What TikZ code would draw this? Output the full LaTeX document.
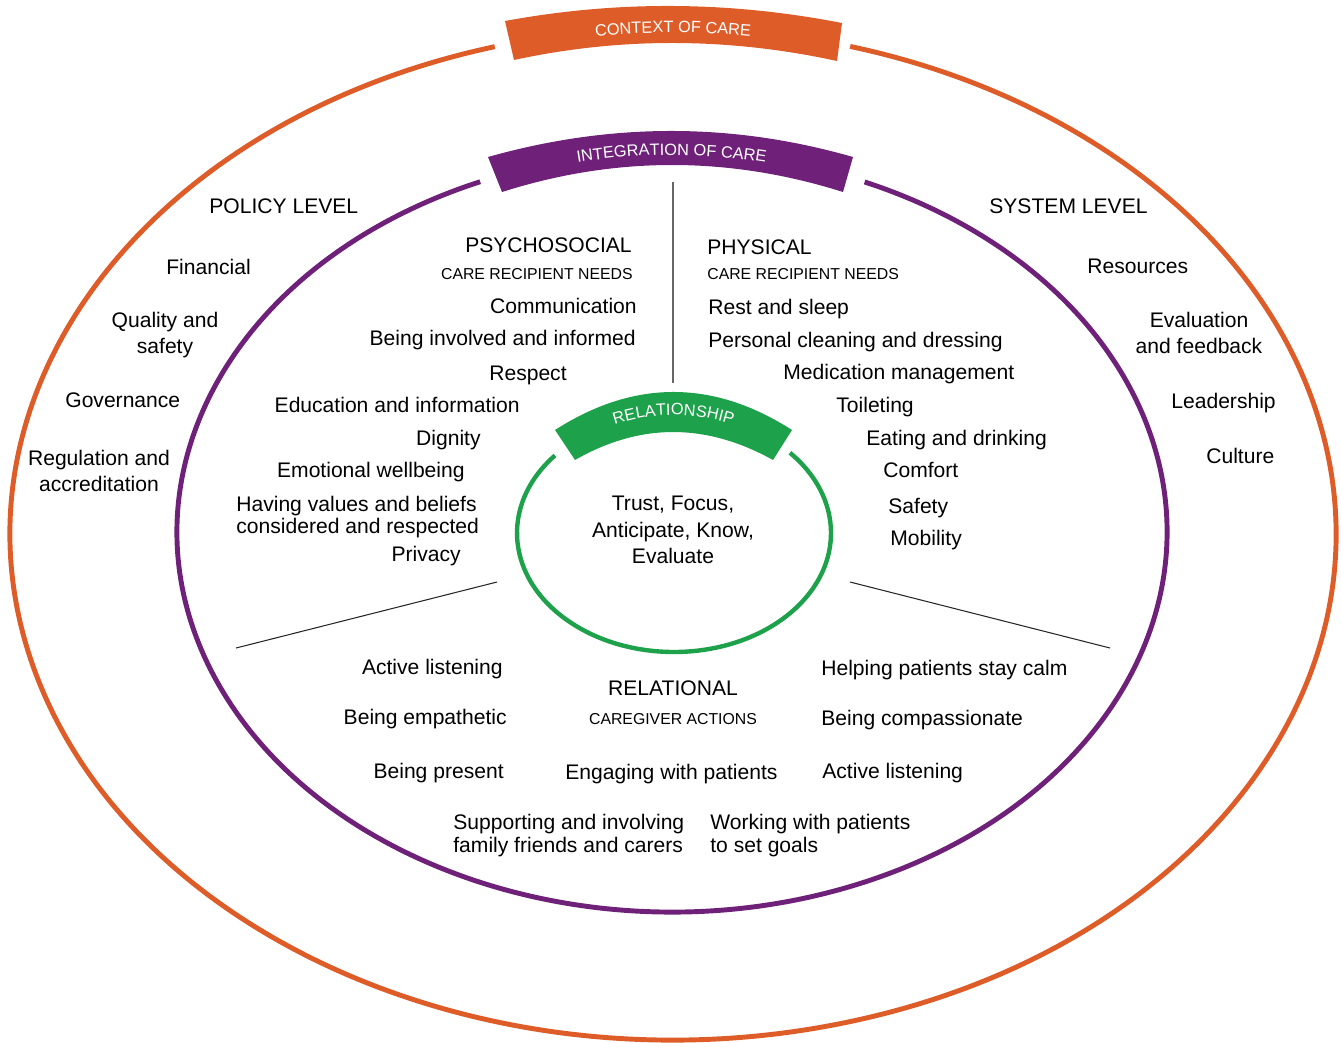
\documentclass[tikz,border=0pt]{standalone}
\usepackage{fontspec}
\setmainfont{Liberation Sans}
\usetikzlibrary{decorations.text}
\definecolor{careorange}{RGB}{222,92,40}
\definecolor{carepurple}{RGB}{111,33,122}
\definecolor{caregreen}{RGB}{29,161,75}
\newcommand\bandfont{\fontsize{9.3}{10}\selectfont}

\begin{document}
\begin{tikzpicture}[x=0.02cm,y=0.02cm,
    item/.style={inner sep=0pt,font=\fontsize{12}{15}\selectfont},
    small item/.style={inner sep=0pt,font=\fontsize{9}{11}\selectfont},
    ring/.style={line width=2.8pt},
    divider/.style={draw=black!85,line width=0.6pt},
    band text/.style={decorate,decoration={text along path,text align=center,text color=white,text={|\bandfont|#1}}}]
\useasboundingbox (0,0) rectangle (1341,-1042);

\draw[ring,careorange] (673,-534) ++(105.6:663 and 506) arc[start angle=105.6,end angle=434.5,x radius=663,y radius=506];
\draw[ring,carepurple] (672,-532) ++(112.8:495 and 380) arc[start angle=112.8,end angle=427.1,x radius=495,y radius=380];
\draw[ring,caregreen,line width=2.5pt] (674,-533) ++(139.3:157 and 119) arc[start angle=139.3,end angle=402.4,x radius=157,y radius=119];

\fill[careorange] (505,-21) .. controls (617,-0.3) and (729,-1) .. (842,-23) -- (837,-61) .. controls (728,-37.3) and (620,-37) .. (514,-60) -- cycle;
\fill[carepurple] (488,-157) .. controls (611,-122.3) and (732,-122.3) .. (853,-157) -- (843,-192) .. controls (729,-156) and (615,-156) .. (502,-192) -- cycle;
\fill[caregreen] (555,-430) .. controls (634,-379.3) and (713,-379.3) .. (792,-430) -- (773,-460) .. controls (706,-422.7) and (640,-422.7) .. (575,-460) -- cycle;
\path[band text={CONTEXT OF CARE}] (506,-49) .. controls (617,-27) and (729,-27) .. (840,-49);
\path[band text={INTEGRATION OF CARE}] (495,-181.5) .. controls (613,-146.2) and (731,-146.2) .. (848,-181.5);
\path[band text={RELATIONSHIP}] (565,-448) .. controls (637,-404) and (709,-404) .. (782,-448);

\coordinate (v1) at (673,-182);
\coordinate (v2) at (673,-383);
\coordinate (l1) at (497,-582);
\coordinate (l2) at (236,-648);
\coordinate (r1) at (850,-582);
\coordinate (r2) at (1110,-648);
\draw[divider,draw=black!60,line width=0.8pt] (v1) -- (v2);
\draw[divider] (l1) -- (l2);
\draw[divider] (r1) -- (r2);

\node[item,anchor=mid west] (policy) at (209,-209) {POLICY LEVEL};
\node[item,anchor=mid west] (fin) at (166,-270) {Financial};
\node[item,anchor=north,align=center] (qual) at (165,-312) {Quality and\\safety};
\node[item,anchor=mid west] (gov) at (65,-403) {Governance};
\node[item,anchor=north,align=center] (reg) at (99,-450) {Regulation and\\accreditation};

\node[item,anchor=mid west] (system) at (989,-209) {SYSTEM LEVEL};
\node[item,anchor=mid west] (res) at (1087,-269) {Resources};
\node[item,anchor=north,align=center] (eval) at (1199,-312) {Evaluation\\and feedback};
\node[item,anchor=mid west] (lead) at (1171,-404) {Leadership};
\node[item,anchor=mid west] (cult) at (1206,-459) {Culture};

\node[item,anchor=mid east] (psy) at (632,-248) {PSYCHOSOCIAL};
\node[small item,anchor=mid east] (psyneeds) at (633,-275) {CARE RECIPIENT NEEDS};
\node[item,anchor=mid east] (comm) at (637,-309) {Communication};
\node[item,anchor=mid east] (involved) at (636,-341) {Being involved and informed};
\node[item,anchor=mid east] (respect) at (567,-376) {Respect};
\node[item,anchor=mid east] (edu) at (520,-408) {Education and information};
\node[item,anchor=mid east] (dignity) at (481,-441) {Dignity};
\node[item,anchor=mid east] (emo) at (465,-473) {Emotional wellbeing};
\node[item,anchor=north west,align=left] (values) at (236,-496) {Having values and beliefs\\[-2.5pt]considered and respected};
\node[item,anchor=mid east] (privacy) at (461,-557) {Privacy};

\node[item,anchor=mid west] (phys) at (707,-250) {PHYSICAL};
\node[small item,anchor=mid west] (physneeds) at (707,-275) {CARE RECIPIENT NEEDS};
\node[item,anchor=mid west] (rest) at (708,-310) {Rest and sleep};
\node[item,anchor=mid west] (personal) at (708,-343) {Personal cleaning and dressing};
\node[item,anchor=mid west] (med) at (783,-375) {Medication management};
\node[item,anchor=mid west] (toilet) at (836,-408) {Toileting};
\node[item,anchor=mid west] (eat) at (866,-441) {Eating and drinking};
\node[item,anchor=mid west] (comfort) at (883,-473) {Comfort};
\node[item,anchor=mid west] (safety) at (888,-509) {Safety};
\node[item,anchor=mid west] (mobility) at (890,-541) {Mobility};

\node[item,anchor=north,align=center] (core) at (673,-496) {Trust, Focus,\\Anticipate, Know,\\Evaluate};

\node[item,anchor=mid] (rel) at (673,-691) {RELATIONAL};
\node[small item,anchor=mid] (relact) at (673,-720) {CAREGIVER ACTIONS};
\node[item,anchor=mid east] (listenl) at (503,-670) {Active listening};
\node[item,anchor=mid east] (empath) at (507,-720) {Being empathetic};
\node[item,anchor=mid east] (present) at (504,-774) {Being present};
\node[item,anchor=mid west] (engage) at (565,-775) {Engaging with patients};
\node[item,anchor=north west,align=left] (support) at (453,-814) {Supporting and involving\\[-2pt]family friends and carers};
\node[item,anchor=north west,align=left] (goals) at (710,-814) {Working with patients\\[-2pt]to set goals};
\node[item,anchor=mid west] (calm) at (821,-671) {Helping patients stay calm};
\node[item,anchor=mid west] (compass) at (821,-721) {Being compassionate};
\node[item,anchor=mid west] (listenr) at (822,-774) {Active listening};
\end{tikzpicture}
\end{document}
